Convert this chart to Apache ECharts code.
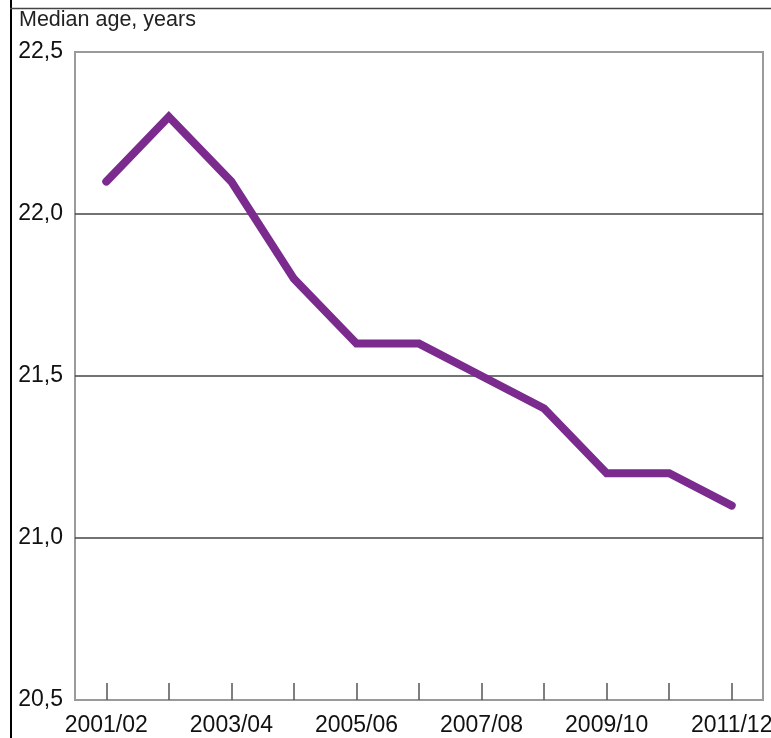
<!DOCTYPE html>
<html>
<head>
<meta charset="utf-8">
<script src="https://cdn.jsdelivr.net/npm/echarts@6/dist/echarts.min.js"></script>
<style>
html,body{margin:0;padding:0;background:#fff;}
#c{width:771px;height:738px;}
</style>
</head>
<body>
<div id="c"></div>
<script>
const categories = ['2001/02','2002/03','2003/04','2004/05','2005/06','2006/07','2007/08','2008/09','2009/10','2010/11','2011/12'];
const medianAge = [22.1, 22.3, 22.1, 21.8, 21.6, 21.6, 21.5, 21.4, 21.2, 21.2, 21.1];
const yMin = 20.5, yMax = 22.5, yStep = 0.5;

const FONT = 'Liberation Sans, Arial, sans-serif';
const chart = echarts.init(document.getElementById('c'));
chart.setOption({
  animation: false,
  backgroundColor: '#fff',
  textStyle: {fontFamily: FONT},
  grid: {left: 75, top: 52, right: 8, bottom: 38, outerBoundsMode: 'none', containLabel: false,
    show: true, borderColor: '#9a9a9a', borderWidth: 2, backgroundColor: 'transparent'},
  graphic: [
    {type: 'line', shape: {x1: 11, y1: 0, x2: 11, y2: 738}, style: {stroke: '#000', lineWidth: 2}, z: 100},
    {type: 'line', shape: {x1: 10, y1: 8.5, x2: 771, y2: 8.5}, style: {stroke: '#444', lineWidth: 1.5}, z: 100},
    {type: 'text', left: 19, top: 9, style: {text: 'Median age, years', fontSize: 21.5, fill: '#222', fontFamily: FONT}},
    {type: 'text', left: 16, top: -20, style: {text: 'Sweden', fontSize: 26, fill: '#222', fontFamily: 'Liberation Serif, serif'}}
  ],
  xAxis: {
    type: 'category',
    data: categories,
    boundaryGap: true,
    axisLine: {show: true, lineStyle: {color: '#9a9a9a', width: 2}},
    axisTick: {show: true, interval: 0, alignWithLabel: true, inside: true, length: 17, lineStyle: {color: '#555', width: 1.5}},
    axisLabel: {interval: 1, margin: 14, fontSize: 23, color: '#111', fontFamily: FONT, hideOverlap: false},
    splitLine: {show: false}
  },
  yAxis: {
    type: 'value',
    min: yMin, max: yMax, interval: yStep,
    axisLine: {show: false},
    axisTick: {show: false},
    axisLabel: {margin: 12, fontSize: 23, color: '#111', fontFamily: FONT,
      formatter: v => v.toFixed(1).replace('.', ',')},
    splitLine: {show: true, showMinLine: false, showMaxLine: false, lineStyle: {color: '#444', width: 1.5}}
  },
  series: [{
    type: 'line',
    data: medianAge,
    showSymbol: false,
    symbol: 'none',
    lineStyle: {color: '#7b2a8e', width: 8, cap: 'round', join: 'miter'},
    z: 5
  }]
});
</script>
</body>
</html>
